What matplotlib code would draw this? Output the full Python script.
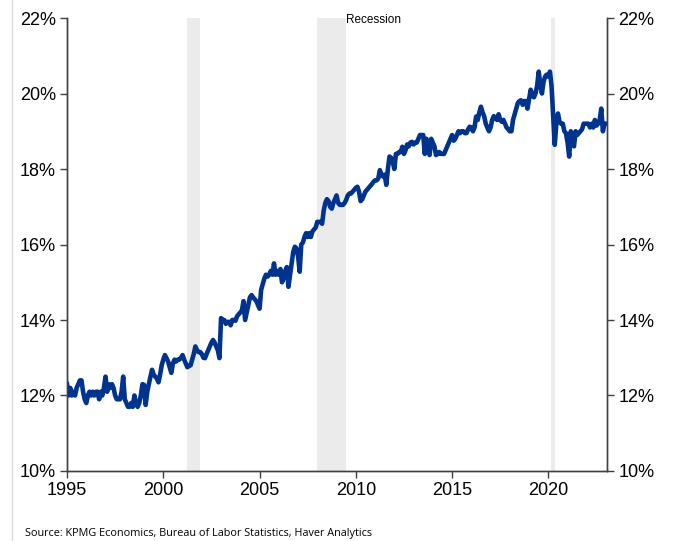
import numpy as np
import matplotlib.pyplot as plt
from matplotlib.lines import Line2D
from matplotlib.ticker import FuncFormatter

# monthly share (%), Jan..Dec
y1995 = [12.3, 12.0, 12.2, 12.0, 12.1, 12.0, 12.2, 12.3, 12.4, 12.4, 12.1, 11.9]
y1996 = [11.8, 12.0, 12.1, 12.0, 12.1, 12.0, 12.1, 12.1, 11.9, 12.1, 12.0, 12.2]
y1997 = [12.5, 12.1, 12.3, 12.2, 12.3, 12.2, 12.0, 11.9, 11.9, 11.9, 12.1, 12.5]
y1998 = [11.9, 11.8, 11.7, 11.7, 11.8, 11.7, 12.0, 11.8, 11.7, 11.8, 12.0, 12.3]
y1999 = [12.28, 11.75, 12.1, 12.3, 12.5, 12.68, 12.55, 12.5, 12.45, 12.35, 12.55, 12.8]
y2000 = [12.95, 13.07, 12.99, 12.9, 12.75, 12.6, 12.85, 12.95, 12.9, 12.95, 12.95, 13.0]
y2001 = [13.07, 12.95, 12.85, 12.75, 12.78, 12.8, 12.95, 13.1, 13.3, 13.2, 13.15, 13.15]
y2002 = [13.1, 13.0, 12.99, 13.1, 13.2, 13.3, 13.4, 13.47, 13.4, 13.3, 13.2, 12.99]
y2003 = [14.05, 14.0, 14.0, 13.9, 13.95, 13.95, 13.86, 14.0, 14.0, 13.98, 14.1, 14.15]
y2004 = [14.2, 14.25, 14.5, 14.0, 14.2, 14.4, 14.6, 14.66, 14.6, 14.55, 14.5, 14.4]
y2005 = [14.3, 14.8, 14.95, 15.1, 15.2, 15.15, 15.2, 15.3, 15.2, 15.5, 15.2, 15.3]
y2006 = [15.2, 15.35, 15.0, 15.1, 15.3, 15.4, 14.88, 15.2, 15.5, 15.8, 15.94, 15.9]
y2007 = [15.7, 15.28, 16.0, 16.05, 16.2, 16.3, 16.2, 16.3, 16.2, 16.35, 16.4, 16.45]
y2008 = [16.6, 16.6, 16.6, 16.55, 16.9, 17.1, 17.2, 17.15, 17.0, 16.95, 17.1, 17.2]
y2009 = [17.3, 17.1, 17.05, 17.05, 17.05, 17.1, 17.18, 17.3, 17.35, 17.35, 17.4, 17.45]
y2010 = [17.5, 17.53, 17.4, 17.15, 17.2, 17.3, 17.4, 17.45, 17.5, 17.55, 17.6, 17.66]
y2011 = [17.7, 17.7, 17.75, 17.97, 17.85, 17.8, 17.85, 17.58, 18.0, 18.33, 18.3, 18.2]
y2012 = [18.0, 18.4, 18.4, 18.45, 18.45, 18.59, 18.4, 18.5, 18.65, 18.6, 18.7, 18.72]
y2013 = [18.65, 18.7, 18.7, 18.8, 18.9, 18.9, 18.9, 18.4, 18.8, 18.65, 18.37, 18.8]
y2014 = [18.7, 18.6, 18.37, 18.4, 18.45, 18.4, 18.4, 18.4, 18.5, 18.6, 18.7, 18.8]
y2015 = [18.9, 18.75, 18.8, 18.9, 19.0, 18.95, 19.0, 19.0, 18.95, 18.95, 19.05, 19.12]
y2016 = [19.1, 19.0, 19.1, 19.39, 19.3, 19.5, 19.65, 19.5, 19.4, 19.2, 19.1, 19.0]
y2017 = [19.1, 19.3, 19.4, 19.35, 19.3, 19.45, 19.3, 19.25, 19.3, 19.2, 19.1, 19.05]
y2018 = [19.0, 19.0, 19.3, 19.45, 19.6, 19.75, 19.8, 19.82, 19.7, 19.8, 19.8, 19.6]
y2019 = [19.85, 20.1, 19.95, 19.9, 20.0, 20.2, 20.58, 20.25, 20.0, 20.3, 20.45, 20.5]
y2020 = [20.45, 20.58, 20.2, 19.4, 18.64, 19.2, 19.47, 19.25, 19.2, 19.2, 19.0, 18.95]
y2021 = [18.7, 18.33, 19.0, 18.8, 18.6, 19.0, 18.9, 18.95, 19.0, 19.05, 19.2, 19.2]
y2022 = [19.2, 19.2, 19.1, 19.2, 19.1, 19.3, 19.15, 19.2, 19.3, 19.6, 19.0, 19.2]
y2023 = [19.2]

share = (y1995 + y1996 + y1997 + y1998 + y1999 + y2000 + y2001 + y2002 + y2003
         + y2004 + y2005 + y2006 + y2007 + y2008 + y2009 + y2010 + y2011 + y2012
         + y2013 + y2014 + y2015 + y2016 + y2017 + y2018 + y2019 + y2020 + y2021
         + y2022 + y2023)
fechas = 1995 + np.arange(len(share)) / 12

# recesiones (inicio, fin) en años decimales
recesiones = [(2001.25, 2001.92), (2007.98, 2009.5), (2020.15, 2020.34)]

plt.rcParams['font.family'] = ['Liberation Sans', 'DejaVu Sans']

fig = plt.figure(figsize=(6.73, 5.41), dpi=100)
ax = fig.add_axes([0.0996, 0.1294, 0.8024, 0.8373])

for ini, fin in recesiones:
    ax.axvspan(ini, fin, color='#ebebeb', lw=0, zorder=0)
ax.text(recesiones[1][1], 21.96, 'Recession', fontsize=8.5, ha='left', va='center')

ax.plot(fechas, share, color='#00338d', lw=3.3, solid_joinstyle='round', zorder=3)

ax.set_xlim(1995, 2023.05)
ax.set_ylim(10, 22)
ax.set_xticks([1995, 2000, 2005, 2010, 2015, 2020])
ax.set_yticks(range(10, 23, 2))
pct = FuncFormatter(lambda v, p: f'{v:.0f}%')
ax.yaxis.set_major_formatter(pct)

ax2 = ax.twinx()
ax2.set_ylim(10, 22)
ax2.set_yticks(range(10, 23, 2))
ax2.yaxis.set_major_formatter(pct)

for a in (ax, ax2):
    a.spines['top'].set_visible(False)
    for s in ('left', 'right', 'bottom'):
        a.spines[s].set_color('#404040')
        a.spines[s].set_linewidth(1.0)
    a.tick_params(direction='out', length=5, width=1, color='#404040',
                  labelsize=13, pad=3)

fig.text(0.037, 0.009, 'Source: KPMG Economics, Bureau of Labor Statistics, Haver Analytics',
         fontsize=7.8, family=['Open Sans', 'DejaVu Sans'])
fig.add_artist(Line2D([0.018, 0.018], [0, 1], color='#d9d9d9', lw=1))

fig.savefig('out.png', dpi=100)
